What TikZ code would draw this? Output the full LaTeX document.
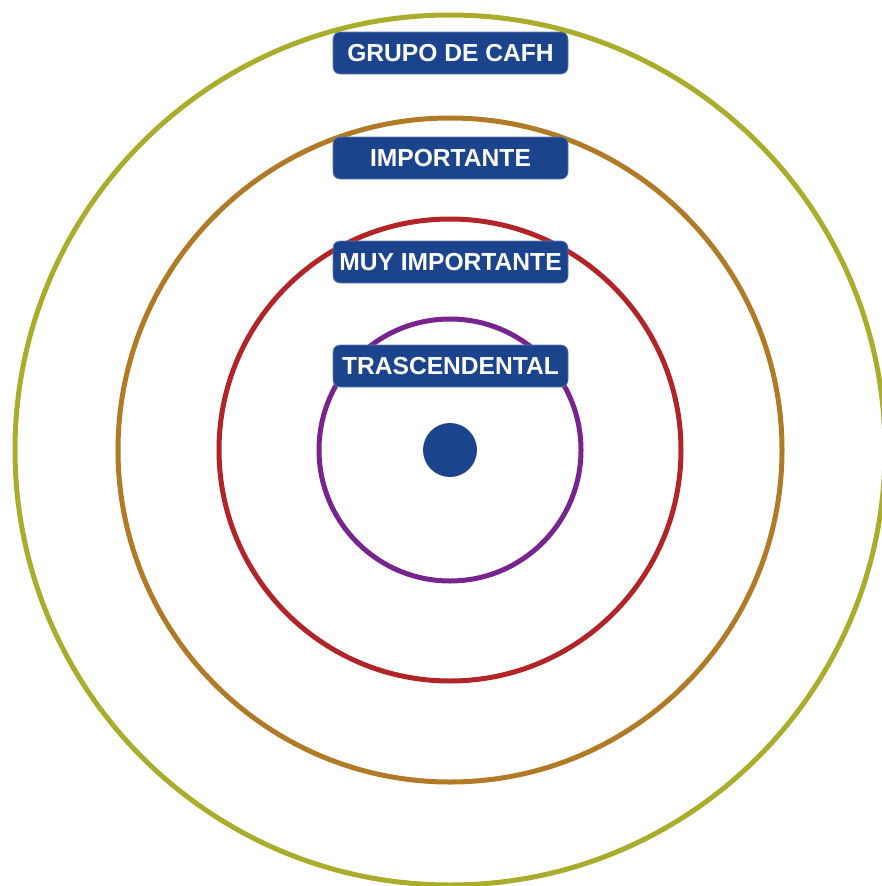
\documentclass[tikz,border=0pt]{standalone}
\usepackage{fontspec}
\setmainfont{Liberation Sans}
\definecolor{cOuter}{HTML}{A9AD2B}
\definecolor{cOrange}{HTML}{B07A27}
\definecolor{cRed}{HTML}{B22428}
\definecolor{cPurple}{HTML}{78248F}
\definecolor{cBlue}{HTML}{1B448D}
\begin{document}
\begin{tikzpicture}[x=1pt,y=-1pt,
  ring/.style={line width=5pt},
  lbl/.style={fill=cBlue, draw=cBlue!70!white, line width=0.6pt, rounded corners=7pt, minimum width=235pt, minimum height=42pt, inner sep=0pt, text=white, font=\fontsize{24.6}{27}\selectfont\bfseries}]
\useasboundingbox (0,0) rectangle (882,886);
\coordinate (c) at (450,450);
\draw[ring, cOuter] (c) circle[radius=435];
\draw[ring, cOrange] (c) circle[radius=332];
\draw[ring, cRed] (c) circle[radius=231];
\draw[ring, cPurple] (c) circle[radius=131];
\fill[cBlue] (c) circle[radius=27];
\node[lbl] (g) at (450.5,53) {GRUPO DE CAFH};
\node[lbl] (i) at (450.5,158) {IMPORTANTE};
\node[lbl] (m) at (450.5,262) {MUY IMPORTANTE};
\node[lbl] (t) at (450.5,366) {TRASCENDENTAL};
\end{tikzpicture}
\end{document}
